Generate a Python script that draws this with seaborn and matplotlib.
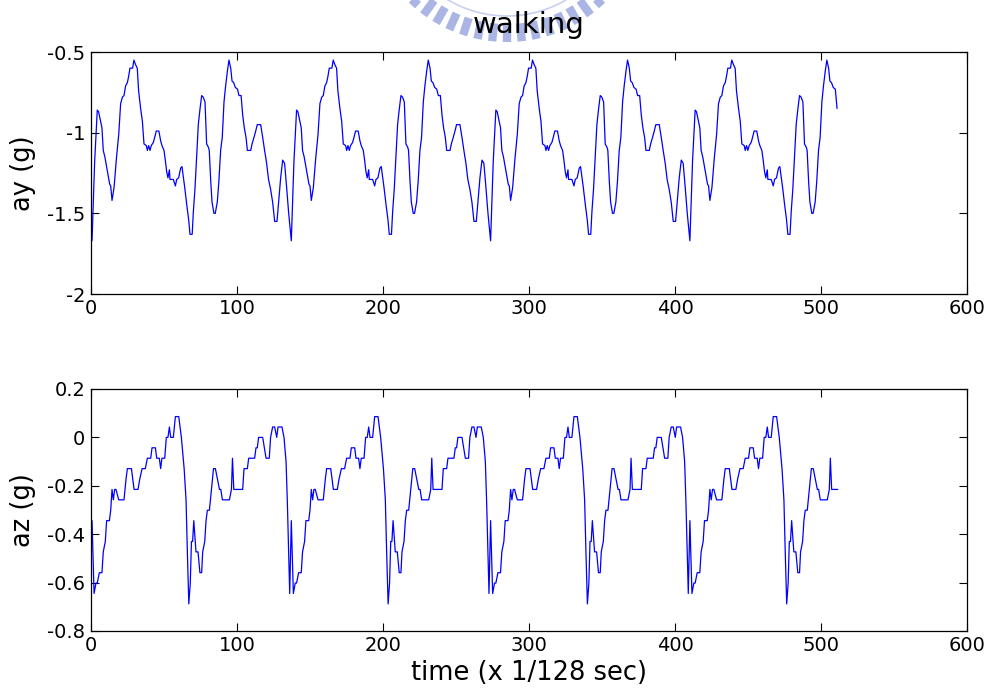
import numpy as np
import pandas as pd
import matplotlib
matplotlib.use("Agg")
import matplotlib.pyplot as plt
from matplotlib.lines import Line2D
from matplotlib.patches import Arc
from matplotlib.ticker import FixedLocator, FuncFormatter
import seaborn as sns

# ---- labels and ticks ----
title = "walking"
x_label = "time (x 1/128 sec)"
ay_label = "ay (g)"
az_label = "az (g)"
x_ticks = [0, 100, 200, 300, 400, 500, 600]
ay_ticks = [-2, -1.5, -1, -0.5]
az_ticks = [-0.8, -0.6, -0.4, -0.2, 0, 0.2]

# ---- vertical acceleration ay (g) against sample index ----
ay_time = [
    0.7, 2.5, 4.3, 5.2, 7.5, 8.4, 9.5, 11.6, 12.8, 13.5,
    14.4, 15.8, 17.4, 19.0, 20.3, 21.5, 22.6, 23.7, 24.9, 25.8,
    26.7, 28.5, 29.4, 30.6, 31.7, 32.6, 34.0, 35.2, 36.3, 37.9,
    38.6, 39.5, 40.4, 41.3, 42.7, 43.6, 44.7, 46.5, 47.7, 48.6,
    50.0, 50.9, 51.8, 52.7, 53.7, 54.1, 56.4, 57.8, 58.7, 60.0,
    61.4, 62.3, 64.2, 65.5, 66.9, 67.8, 69.3, 70.1, 71.2, 72.4,
    73.5, 74.7, 75.8, 76.9, 78.1, 79.2, 80.4, 81.0, 82.0, 82.9,
    84.2, 85.1, 86.5, 87.6, 88.8, 89.9, 91.1, 92.2, 93.4, 94.5,
    95.7, 96.6, 97.7, 98.9, 100.3, 101.4, 102.8, 103.9, 105.0, 106.2,
    107.1, 109.4, 110.3, 111.6, 112.8, 113.9, 116.2, 117.6, 118.9, 120.3,
    121.6, 123.0, 124.4, 125.8, 127.4, 128.5, 129.9, 131.3, 132.6, 134.0, 135.4,
    137.2, 139.0, 140.8, 141.7, 144.0, 144.9, 146.0, 148.1, 149.3, 150.0,
    150.9, 152.3, 153.9, 155.5, 156.8, 158.0, 159.1, 160.2, 161.4, 162.3,
    163.2, 165.0, 165.9, 167.1, 168.2, 169.1, 170.5, 171.7, 172.8, 174.4,
    175.1, 176.0, 176.9, 177.8, 179.2, 180.1, 181.2, 183.0, 184.2, 185.1,
    186.5, 187.4, 188.3, 189.2, 190.2, 190.6, 192.9, 194.3, 195.2, 196.5,
    197.9, 198.8, 200.7, 202.0, 203.4, 204.3, 205.8, 206.6, 207.7, 208.9,
    210.0, 211.2, 212.3, 213.4, 214.6, 215.7, 216.9, 217.5, 218.5, 219.4,
    220.7, 221.6, 223.0, 224.1, 225.3, 226.4, 227.6, 228.7, 229.9, 231.0,
    232.2, 233.1, 234.2, 235.4, 236.8, 237.9, 239.3, 240.4, 241.5, 242.7,
    243.6, 245.9, 246.8, 248.1, 249.3, 250.4, 252.7, 254.1, 255.4, 256.8,
    258.1, 259.5, 260.9, 262.3, 263.9, 265.0, 266.4, 267.8, 269.1, 270.5, 271.9,
    273.7, 275.5, 277.3, 278.2, 280.5, 281.4, 282.5, 284.6, 285.8, 286.5,
    287.4, 288.8, 290.4, 292.0, 293.3, 294.5, 295.6, 296.7, 297.9, 298.8,
    299.7, 301.5, 302.4, 303.6, 304.7, 305.6, 307.0, 308.2, 309.3, 310.9,
    311.6, 312.5, 313.4, 314.3, 315.7, 316.6, 317.7, 319.5, 320.7, 321.6,
    323.0, 323.9, 324.8, 325.7, 326.7, 327.1, 329.4, 330.8, 331.7, 333.0,
    334.4, 335.3, 337.2, 338.5, 339.9, 340.8, 342.3, 343.1, 344.2, 345.4,
    346.5, 347.7, 348.8, 349.9, 351.1, 352.2, 353.4, 354.0, 355.0, 355.9,
    357.2, 358.1, 359.5, 360.6, 361.8, 362.9, 364.1, 365.2, 366.4, 367.5,
    368.7, 369.6, 370.7, 371.9, 373.3, 374.4, 375.8, 376.9, 378.0, 379.2,
    380.1, 382.4, 383.3, 384.6, 385.8, 386.9, 389.2, 390.6, 391.9, 393.3,
    394.6, 396.0, 397.4, 398.8, 400.4, 401.5, 402.9, 404.3, 405.6, 407.0, 408.4,
    410.2, 412.0, 413.8, 414.7, 417.0, 417.9, 419.0, 421.1, 422.3, 423.0,
    423.9, 425.3, 426.9, 428.5, 429.8, 431.0, 432.1, 433.2, 434.4, 435.3,
    436.2, 438.0, 438.9, 440.1, 441.2, 442.1, 443.5, 444.7, 445.8, 447.4,
    448.1, 449.0, 449.9, 450.8, 452.2, 453.1, 454.2, 456.0, 457.2, 458.1,
    459.5, 460.4, 461.3, 462.2, 463.2, 463.6, 465.9, 467.3, 468.2, 469.5,
    470.9, 471.8, 473.7, 475.0, 476.4, 477.3, 478.8, 479.6, 480.7, 481.9,
    483.0, 484.2, 485.3, 486.4, 487.6, 488.7, 489.9, 490.5, 491.5, 492.4,
    493.7, 494.6, 496.0, 497.1, 498.3, 499.4, 500.6, 501.7, 502.9, 504.0,
    505.2, 506.1, 507.2, 508.4, 509.8, 511.0,
]
ay_value = [
    -1.67, -1.18, -0.86, -0.87, -0.97, -1.11, -1.15, -1.26, -1.32, -1.33,
    -1.42, -1.34, -1.16, -1.01, -0.82, -0.78, -0.77, -0.71, -0.69, -0.65,
    -0.60, -0.60, -0.55, -0.58, -0.60, -0.74, -0.85, -0.93, -1.07, -1.08,
    -1.11, -1.08, -1.11, -1.08, -1.06, -1.03, -0.99, -0.99, -1.05, -1.08,
    -1.11, -1.17, -1.24, -1.28, -1.23, -1.29, -1.29, -1.33, -1.29, -1.28,
    -1.22, -1.21, -1.34, -1.44, -1.54, -1.63, -1.63, -1.49, -1.35, -1.14,
    -0.95, -0.85, -0.77, -0.78, -0.81, -1.07, -1.09, -1.11, -1.30, -1.43,
    -1.50, -1.50, -1.43, -1.30, -1.11, -1.03, -0.81, -0.71, -0.62, -0.55,
    -0.60, -0.68, -0.69, -0.72, -0.73, -0.77, -0.77, -0.89, -0.97, -1.03,
    -1.11, -1.11, -1.07, -1.03, -0.99, -0.95, -0.95, -1.03, -1.11, -1.19,
    -1.29, -1.35, -1.43, -1.55, -1.55, -1.43, -1.28, -1.17, -1.19, -1.34, -1.50,
    -1.67, -1.18, -0.86, -0.87, -0.97, -1.11, -1.15, -1.26, -1.32, -1.33,
    -1.42, -1.34, -1.16, -1.01, -0.82, -0.78, -0.77, -0.71, -0.69, -0.65,
    -0.60, -0.60, -0.55, -0.58, -0.60, -0.74, -0.85, -0.93, -1.07, -1.08,
    -1.11, -1.08, -1.11, -1.08, -1.06, -1.03, -0.99, -0.99, -1.05, -1.08,
    -1.11, -1.17, -1.24, -1.28, -1.23, -1.29, -1.29, -1.33, -1.29, -1.28,
    -1.22, -1.21, -1.34, -1.44, -1.54, -1.63, -1.63, -1.49, -1.35, -1.14,
    -0.95, -0.85, -0.77, -0.78, -0.81, -1.07, -1.09, -1.11, -1.30, -1.43,
    -1.50, -1.50, -1.43, -1.30, -1.11, -1.03, -0.81, -0.71, -0.62, -0.55,
    -0.60, -0.68, -0.69, -0.72, -0.73, -0.77, -0.77, -0.89, -0.97, -1.03,
    -1.11, -1.11, -1.07, -1.03, -0.99, -0.95, -0.95, -1.03, -1.11, -1.19,
    -1.29, -1.35, -1.43, -1.55, -1.55, -1.43, -1.28, -1.17, -1.19, -1.34, -1.50,
    -1.67, -1.18, -0.86, -0.87, -0.97, -1.11, -1.15, -1.26, -1.32, -1.33,
    -1.42, -1.34, -1.16, -1.01, -0.82, -0.78, -0.77, -0.71, -0.69, -0.65,
    -0.60, -0.60, -0.55, -0.58, -0.60, -0.74, -0.85, -0.93, -1.07, -1.08,
    -1.11, -1.08, -1.11, -1.08, -1.06, -1.03, -0.99, -0.99, -1.05, -1.08,
    -1.11, -1.17, -1.24, -1.28, -1.23, -1.29, -1.29, -1.33, -1.29, -1.28,
    -1.22, -1.21, -1.34, -1.44, -1.54, -1.63, -1.63, -1.49, -1.35, -1.14,
    -0.95, -0.85, -0.77, -0.78, -0.81, -1.07, -1.09, -1.11, -1.30, -1.43,
    -1.50, -1.50, -1.43, -1.30, -1.11, -1.03, -0.81, -0.71, -0.62, -0.55,
    -0.60, -0.68, -0.69, -0.72, -0.73, -0.77, -0.77, -0.89, -0.97, -1.03,
    -1.11, -1.11, -1.07, -1.03, -0.99, -0.95, -0.95, -1.03, -1.11, -1.19,
    -1.29, -1.35, -1.43, -1.55, -1.55, -1.43, -1.28, -1.17, -1.19, -1.34, -1.50,
    -1.67, -1.18, -0.86, -0.87, -0.97, -1.11, -1.15, -1.26, -1.32, -1.33,
    -1.42, -1.34, -1.16, -1.01, -0.82, -0.78, -0.77, -0.71, -0.69, -0.65,
    -0.60, -0.60, -0.55, -0.58, -0.60, -0.74, -0.85, -0.93, -1.07, -1.08,
    -1.11, -1.08, -1.11, -1.08, -1.06, -1.03, -0.99, -0.99, -1.05, -1.08,
    -1.11, -1.17, -1.24, -1.28, -1.23, -1.29, -1.29, -1.33, -1.29, -1.28,
    -1.22, -1.21, -1.34, -1.44, -1.54, -1.63, -1.63, -1.49, -1.35, -1.14,
    -0.95, -0.85, -0.77, -0.78, -0.81, -1.07, -1.09, -1.11, -1.30, -1.43,
    -1.50, -1.50, -1.43, -1.30, -1.11, -1.03, -0.81, -0.71, -0.62, -0.55,
    -0.60, -0.68, -0.69, -0.72, -0.73, -0.85,
]

# ---- forward acceleration az (g) against sample index ----
az_time = [
    0.7, 2.1, 3.4, 4.3, 5.7, 7.5, 8.4, 9.8, 10.7, 12.6,
    13.5, 14.4, 15.3, 16.2, 17.1, 19.0, 22.6, 24.0, 24.9, 27.7,
    29.5, 32.2, 33.4, 35.0, 37.2, 38.6, 40.9, 41.8, 44.1, 45.0,
    46.8, 47.7, 48.6, 50.5, 51.6, 52.7, 53.7, 54.6, 56.4, 57.8,
    60.1, 61.9, 63.8, 65.1, 66.0, 67.0, 68.0, 68.8, 69.6, 70.4,
    71.9, 73.3, 74.6, 75.8, 76.5, 77.9, 78.8, 79.7, 81.1, 82.5,
    83.9, 85.2, 86.6, 88.0, 88.9, 90.0, 94.8, 96.2, 96.9, 97.8,
    103.9, 104.8, 107.1, 108.0, 112.1, 113.0, 113.9, 114.8, 117.6, 119.9,
    122.1, 123.0, 124.4, 125.8, 127.2, 128.1, 130.8, 132.2, 133.6, 134.5,
    135.4, 136.1,
    137.2, 138.6, 139.9, 140.8, 142.2, 144.0, 144.9, 146.3, 147.2, 149.1,
    150.0, 150.9, 151.8, 152.7, 153.6, 155.5, 159.1, 160.5, 161.4, 164.2,
    166.0, 168.7, 169.9, 171.5, 173.7, 175.1, 177.4, 178.3, 180.6, 181.5,
    183.3, 184.2, 185.1, 187.0, 188.1, 189.2, 190.2, 191.1, 192.9, 194.3,
    196.6, 198.4, 200.3, 201.6, 202.5, 203.5, 204.5, 205.3, 206.1, 206.9,
    208.4, 209.8, 211.1, 212.3, 213.0, 214.4, 215.3, 216.2, 217.6, 219.0,
    220.4, 221.7, 223.1, 224.5, 225.4, 226.5, 231.3, 232.7, 233.4, 234.3,
    240.4, 241.3, 243.6, 244.5, 248.6, 249.5, 250.4, 251.3, 254.1, 256.4,
    258.6, 259.5, 260.9, 262.3, 263.7, 264.6, 267.3, 268.7, 270.1, 271.0,
    271.9, 272.6,
    273.7, 275.1, 276.4, 277.3, 278.7, 280.5, 281.4, 282.8, 283.7, 285.6,
    286.5, 287.4, 288.3, 289.2, 290.1, 292.0, 295.6, 297.0, 297.9, 300.7,
    302.5, 305.2, 306.4, 308.0, 310.2, 311.6, 313.9, 314.8, 317.1, 318.0,
    319.8, 320.7, 321.6, 323.5, 324.6, 325.7, 326.7, 327.6, 329.4, 330.8,
    333.1, 334.9, 336.8, 338.1, 339.0, 340.0, 341.0, 341.8, 342.6, 343.4,
    344.9, 346.3, 347.6, 348.8, 349.5, 350.9, 351.8, 352.7, 354.1, 355.5,
    356.9, 358.2, 359.6, 361.0, 361.9, 363.0, 367.8, 369.2, 369.9, 370.8,
    376.9, 377.8, 380.1, 381.0, 385.1, 386.0, 386.9, 387.8, 390.6, 392.9,
    395.1, 396.0, 397.4, 398.8, 400.2, 401.1, 403.8, 405.2, 406.6, 407.5,
    408.4, 409.1,
    410.2, 411.6, 412.9, 413.8, 415.2, 417.0, 417.9, 419.3, 420.2, 422.1,
    423.0, 423.9, 424.8, 425.7, 426.6, 428.5, 432.1, 433.5, 434.4, 437.2,
    439.0, 441.7, 442.9, 444.5, 446.7, 448.1, 450.4, 451.3, 453.6, 454.5,
    456.3, 457.2, 458.1, 460.0, 461.1, 462.2, 463.2, 464.1, 465.9, 467.3,
    469.6, 471.4, 473.3, 474.6, 475.5, 476.5, 477.5, 478.3, 479.1, 479.9,
    481.4, 482.8, 484.1, 485.3, 486.0, 487.4, 488.3, 489.2, 490.6, 492.0,
    493.4, 494.7, 496.1, 497.5, 498.4, 499.5, 504.3, 505.7, 506.4, 507.3,
    511.5,
]
az_value = [
    -0.344, -0.645, -0.602, -0.602, -0.559, -0.559, -0.473, -0.430, -0.344, -0.344,
    -0.301, -0.215, -0.258, -0.215, -0.215, -0.258, -0.258, -0.172, -0.129, -0.129,
    -0.215, -0.215, -0.172, -0.129, -0.129, -0.086, -0.086, -0.043, -0.043, -0.086,
    -0.086, -0.129, -0.086, -0.086, 0.0, 0.0, 0.043, 0.0, 0.0, 0.086,
    0.086, 0.0, -0.129, -0.258, -0.473, -0.688, -0.602, -0.430, -0.430, -0.344,
    -0.473, -0.473, -0.559, -0.559, -0.473, -0.430, -0.344, -0.301, -0.301, -0.215,
    -0.129, -0.129, -0.172, -0.215, -0.215, -0.258, -0.258, -0.215, -0.086, -0.215,
    -0.215, -0.129, -0.129, -0.086, -0.086, -0.043, -0.043, 0.0, 0.0, -0.086,
    -0.086, 0.0, 0.043, 0.043, 0.0, 0.043, 0.043, 0.0, -0.10, -0.27,
    -0.49, -0.645,
    -0.344, -0.645, -0.602, -0.602, -0.559, -0.559, -0.473, -0.430, -0.344, -0.344,
    -0.301, -0.215, -0.258, -0.215, -0.215, -0.258, -0.258, -0.172, -0.129, -0.129,
    -0.215, -0.215, -0.172, -0.129, -0.129, -0.086, -0.086, -0.043, -0.043, -0.086,
    -0.086, -0.129, -0.086, -0.086, 0.0, 0.0, 0.043, 0.0, 0.0, 0.086,
    0.086, 0.0, -0.129, -0.258, -0.473, -0.688, -0.602, -0.430, -0.430, -0.344,
    -0.473, -0.473, -0.559, -0.559, -0.473, -0.430, -0.344, -0.301, -0.301, -0.215,
    -0.129, -0.129, -0.172, -0.215, -0.215, -0.258, -0.258, -0.215, -0.086, -0.215,
    -0.215, -0.129, -0.129, -0.086, -0.086, -0.043, -0.043, 0.0, 0.0, -0.086,
    -0.086, 0.0, 0.043, 0.043, 0.0, 0.043, 0.043, 0.0, -0.10, -0.27,
    -0.49, -0.645,
    -0.344, -0.645, -0.602, -0.602, -0.559, -0.559, -0.473, -0.430, -0.344, -0.344,
    -0.301, -0.215, -0.258, -0.215, -0.215, -0.258, -0.258, -0.172, -0.129, -0.129,
    -0.215, -0.215, -0.172, -0.129, -0.129, -0.086, -0.086, -0.043, -0.043, -0.086,
    -0.086, -0.129, -0.086, -0.086, 0.0, 0.0, 0.043, 0.0, 0.0, 0.086,
    0.086, 0.0, -0.129, -0.258, -0.473, -0.688, -0.602, -0.430, -0.430, -0.344,
    -0.473, -0.473, -0.559, -0.559, -0.473, -0.430, -0.344, -0.301, -0.301, -0.215,
    -0.129, -0.129, -0.172, -0.215, -0.215, -0.258, -0.258, -0.215, -0.086, -0.215,
    -0.215, -0.129, -0.129, -0.086, -0.086, -0.043, -0.043, 0.0, 0.0, -0.086,
    -0.086, 0.0, 0.043, 0.043, 0.0, 0.043, 0.043, 0.0, -0.10, -0.27,
    -0.49, -0.645,
    -0.344, -0.645, -0.602, -0.602, -0.559, -0.559, -0.473, -0.430, -0.344, -0.344,
    -0.301, -0.215, -0.258, -0.215, -0.215, -0.258, -0.258, -0.172, -0.129, -0.129,
    -0.215, -0.215, -0.172, -0.129, -0.129, -0.086, -0.086, -0.043, -0.043, -0.086,
    -0.086, -0.129, -0.086, -0.086, 0.0, 0.0, 0.043, 0.0, 0.0, 0.086,
    0.086, 0.0, -0.129, -0.258, -0.473, -0.688, -0.602, -0.430, -0.430, -0.344,
    -0.473, -0.473, -0.559, -0.559, -0.473, -0.430, -0.344, -0.301, -0.301, -0.215,
    -0.129, -0.129, -0.172, -0.215, -0.215, -0.258, -0.258, -0.215, -0.086, -0.215,
    -0.215,
]

# ---- style: MATLAB-like boxed axes with inward ticks ----
sns.set_theme(style="white")
plt.rcParams.update({
    "font.family": ["DejaVu Sans"],
    "axes.unicode_minus": False,
    "axes.edgecolor": "black",
    "axes.linewidth": 0.9,
    "xtick.direction": "in",
    "ytick.direction": "in",
    "xtick.top": True,
    "ytick.right": True,
    "xtick.bottom": True,
    "ytick.left": True,
    "xtick.major.size": 6,
    "ytick.major.size": 6,
    "xtick.major.width": 0.8,
    "ytick.major.width": 0.8,
    "xtick.color": "black",
    "ytick.color": "black",
    "xtick.labelsize": 14,
    "ytick.labelsize": 14,
    "xtick.major.pad": 3.5,
    "ytick.major.pad": 4,
    "text.color": "black",
    "axes.labelcolor": "black",
})

W, H = 993, 693
fig = plt.figure(figsize=(W / 100, H / 100), dpi=100)
fig.patch.set_facecolor("white")

# faint university emblem behind the title
logo_color = "#8796d8"
cx, cy = 507, -100
for ang in np.arange(-42, 43, 6):
    a = np.deg2rad(ang)
    r0, r1 = 124, 142
    xs = [(cx + r * np.sin(a)) / W for r in (r0, r1)]
    ys = [1 - (cy + r * np.cos(a)) / H for r in (r0, r1)]
    fig.add_artist(Line2D(xs, ys, transform=fig.transFigure, color=logo_color,
                          lw=6, alpha=0.7, solid_capstyle="butt", zorder=0))
arc = Arc((cx / W, 1 - cy / H), 2 * 116 / W, 2 * 116 / H, theta1=225, theta2=315,
          transform=fig.transFigure, color=logo_color, lw=1.2, alpha=0.45, zorder=0)
fig.add_artist(arc)

ax1 = fig.add_axes([91 / W, 1 - 294 / H, 876 / W, 242 / H])
ax2 = fig.add_axes([91 / W, 1 - 631 / H, 876 / W, 242 / H])

df_ay = pd.DataFrame({"t": ay_time, "v": ay_value})
df_az = pd.DataFrame({"t": az_time, "v": az_value})
sns.lineplot(data=df_ay, x="t", y="v", ax=ax1, color="#0000ff", lw=0.9,
             estimator=None, sort=False)
sns.lineplot(data=df_az, x="t", y="v", ax=ax2, color="#0000ff", lw=0.9,
             estimator=None, sort=False)

fmt = FuncFormatter(lambda v, pos: f"{v:g}")
for ax, yt, ylab in ((ax1, ay_ticks, ay_label), (ax2, az_ticks, az_label)):
    ax.set_xlim(x_ticks[0], x_ticks[-1])
    ax.set_ylim(yt[0], yt[-1])
    ax.xaxis.set_major_locator(FixedLocator(x_ticks))
    ax.yaxis.set_major_locator(FixedLocator(yt))
    ax.xaxis.set_major_formatter(fmt)
    ax.yaxis.set_major_formatter(fmt)
    ax.set_ylabel(ylab, fontsize=18.5, labelpad=8)
    ax.set_xlabel("")
    for s in ax.spines.values():
        s.set_visible(True)
        s.set_color("black")

ax1.set_title(title, fontsize=21, pad=14)
ax2.set_xlabel(x_label, fontsize=18.5, labelpad=4)

fig.savefig("out.png", dpi=100, facecolor="white")
